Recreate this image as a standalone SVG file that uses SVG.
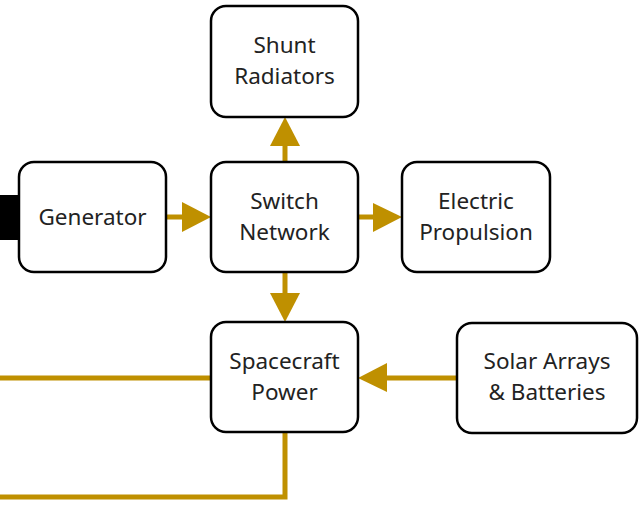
<svg xmlns="http://www.w3.org/2000/svg" width="641" height="505" viewBox="0 0 641 505">
<style>
.box{fill:#fff;stroke:#000;stroke-width:2.5}
.t{font-family:"Noto Sans","Open Sans",sans-serif;font-size:22.5px;fill:#222;text-anchor:middle}
.c{stroke:#BF9000;stroke-width:5;fill:none}
.h{fill:#BF9000}
</style>
<g id="connectors">
<path class="c" d="M166 217H184"/>
<polygon class="h" points="211,217 182,202 182,232"/>
<path class="c" d="M358 217H375"/>
<polygon class="h" points="402,217 373,203 373,232"/>
<path class="c" d="M285 162V144"/>
<polygon class="h" points="285,117 270,146 300,146"/>
<path class="c" d="M285 272V295"/>
<polygon class="h" points="285,322 270,293 300,293"/>
<path class="c" d="M457 378H385"/>
<polygon class="h" points="358,378 387,363 387,392"/>
<path class="c" d="M211 378H0"/>
<path class="c" d="M285 432V497H0"/>
</g>
<g id="input"><rect x="0" y="195" width="19" height="45" fill="#000"/></g>
<g id="generator"><rect class="box" x="19" y="162" width="147" height="110" rx="15"/><text class="t" x="92.5" y="225">Generator</text></g>
<g id="switch"><rect class="box" x="211" y="162" width="147" height="110" rx="15"/><text class="t" x="284.5" y="209">Switch</text><text class="t" x="284.5" y="240">Network</text></g>
<g id="shunt"><rect class="box" x="211" y="6" width="147" height="111" rx="15"/><text class="t" x="284.5" y="53">Shunt</text><text class="t" x="284.5" y="84">Radiators</text></g>
<g id="electric"><rect class="box" x="402" y="162" width="148" height="110" rx="15"/><text class="t" x="476" y="209">Electric</text><text class="t" x="476" y="240">Propulsion</text></g>
<g id="spacecraft"><rect class="box" x="211" y="322" width="147" height="110" rx="15"/><text class="t" x="284.5" y="369">Spacecraft</text><text class="t" x="284.5" y="400">Power</text></g>
<g id="solar"><rect class="box" x="457" y="323" width="180" height="110" rx="15"/><text class="t" x="547" y="369">Solar Arrays</text><text class="t" x="547" y="400">&amp; Batteries</text></g>
</svg>
